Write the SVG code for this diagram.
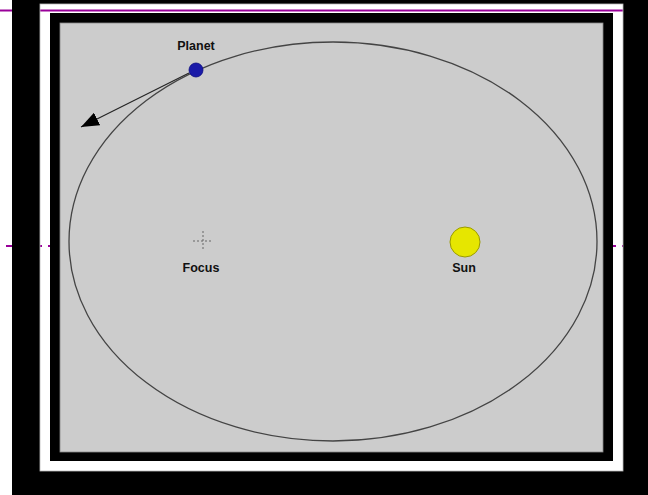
<svg xmlns="http://www.w3.org/2000/svg" width="648" height="495" viewBox="0 0 648 495">
  <style>
    .lbl { font-family: "Liberation Sans", Arial, sans-serif; font-size: 12.5px; font-weight: bold; fill: #111; text-anchor: middle; }
    .purple { stroke: #990099; stroke-width: 2; fill: none; }
  </style>
  <defs>
    <marker id="head" markerUnits="userSpaceOnUse" markerWidth="20" markerHeight="14" viewBox="0 0 20 14" refX="18" refY="7" orient="auto">
      <path d="M0,0 L18,7 L0,14 Z" fill="#000"/>
    </marker>
  </defs>
  <!-- slide background -->
  <rect x="0" y="0" width="648" height="495" fill="#ffffff"/>
  <line class="purple" x1="0" y1="10.5" x2="648" y2="10.5"/>
  <line class="purple" x1="6" y1="246" x2="648" y2="246" stroke-dasharray="8 6"/>
  <!-- picture frame -->
  <g id="frame">
    <path d="M12,0 H648 V495 H12 Z M40,4 V471 H623 V4 Z" fill="#000" fill-rule="evenodd"/>
    <rect x="40" y="4" width="583" height="467" fill="none" stroke="#bbb" stroke-width="0.8"/>
    <rect x="50" y="13" width="563" height="448" fill="#000"/>
    <rect x="60" y="23" width="543" height="429" fill="#cccccc" stroke="#888" stroke-width="0.8"/>
  </g>
  <g id="orbit">
    <ellipse cx="333" cy="241.5" rx="264" ry="199.5" fill="none" stroke="#444" stroke-width="1.3"/>
  </g>
  <g id="focus">
    <line x1="203" y1="231" x2="203" y2="251" stroke="#666" stroke-width="1" stroke-dasharray="2 2"/>
    <line x1="193" y1="241" x2="213" y2="241" stroke="#666" stroke-width="1" stroke-dasharray="2 2"/>
    <text class="lbl" x="201" y="272">Focus</text>
  </g>
  <g id="sun">
    <circle cx="465" cy="242" r="15" fill="#e6e600" stroke="#9a9a00" stroke-width="1"/>
    <text class="lbl" x="464" y="272">Sun</text>
  </g>
  <g id="connectors">
    <line x1="189" y1="73" x2="81" y2="127" stroke="#222" stroke-width="1.2" marker-end="url(#head)"/>
  </g>
  <g id="planet">
    <circle cx="196" cy="70" r="7" fill="#1a1aa8" stroke="#0a0a80" stroke-width="0.8"/>
    <text class="lbl" x="196" y="50">Planet</text>
  </g>
</svg>
